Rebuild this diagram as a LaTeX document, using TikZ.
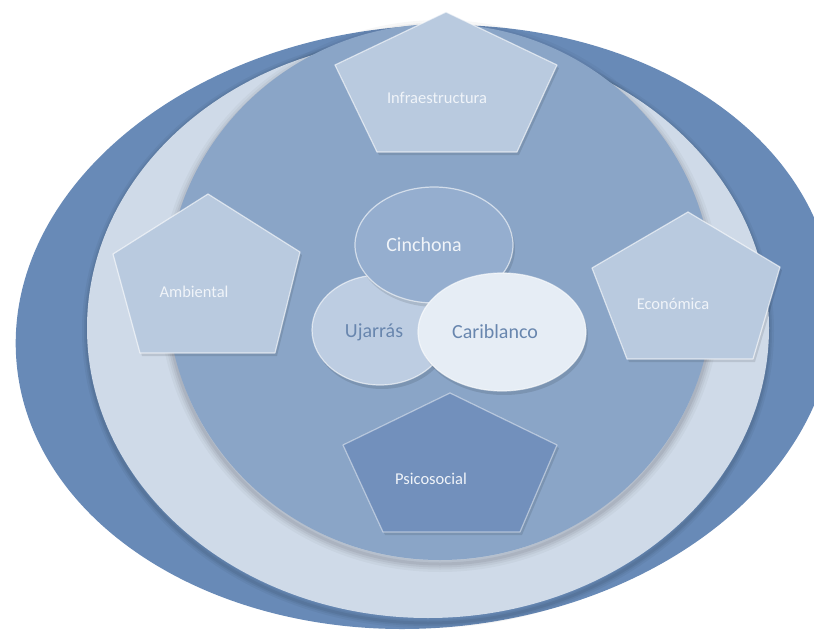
\documentclass[tikz,border=0pt]{standalone}
\usepackage{fontspec}
\setmainfont{Carlito}
\definecolor{darkband}{HTML}{688AB7}
\definecolor{lightband}{HTML}{CFDAE8}
\definecolor{midcircle}{HTML}{8AA5C7}
\definecolor{pent}{HTML}{B9CADF}
\definecolor{pentdark}{HTML}{7290BC}
\definecolor{cinch}{HTML}{95AECF}
\definecolor{ujar}{HTML}{BDCDE2}
\definecolor{carib}{HTML}{E6EDF5}
\definecolor{ltext}{HTML}{F0F4F9}
\definecolor{btext}{HTML}{6886AE}
\tikzset{
  penta/.style={fill=pent, draw=white, draw opacity=0.6, line width=1.2pt, line join=round},
  pentb/.style={fill=pentdark, draw=white, draw opacity=0.45, line width=1.2pt, line join=round},
  shad/.style={fill=black, fill opacity=0.10},
  oval/.style={draw=white, draw opacity=0.6, line width=1.2pt},
  ptext/.style={text=ltext, font=\fontsize{16.5}{18}\selectfont, inner sep=0pt},
  ctext/.style={font=\fontsize{20}{22}\selectfont, inner sep=0pt},
}
\begin{document}
\begin{tikzpicture}[x=1pt,y=-1pt]
\useasboundingbox (0,0) rectangle (814,634);
\clip (0,0) rectangle (814,634);
% outer dark shape
\fill[darkband, rotate around={5:(425,327)}] (425,327) ellipse [x radius=410, y radius=301];
% light band
\foreach \w/\o in {10/0.04,6/0.05,3/0.06}
  \draw[line width=\w pt, black, opacity=\o] (428,331) ellipse [x radius=341, y radius=292];
\fill[lightband] (428,328) ellipse [x radius=341, y radius=290];
% medium circle with soft shadow
\foreach \w/\o in {16/0.03,11/0.04,7/0.05,3/0.06}
  \draw[line width=\w pt, black, opacity=\o] (440,296) ellipse [x radius=273, y radius=268];
\fill[midcircle] (440,292) ellipse [x radius=273, y radius=268];

% pentagons: shadows
\begin{scope}[xshift=2pt, yshift=-3pt]
\fill[shad] (446,12) -- (557,65) -- (517,152) -- (377,152) -- (335,65) -- cycle;
\fill[shad] (208,194) -- (300,252) -- (275,353) -- (140,353) -- (113,254) -- cycle;
\fill[shad] (688,212) -- (780,267) -- (753,359) -- (627,359) -- (592,268) -- cycle;
\fill[shad] (450,393) -- (557,445) -- (520,532) -- (383,532) -- (343,445) -- cycle;
\end{scope}
% pentagons
\draw[penta] (446,12) -- (557,65) -- (517,152) -- (377,152) -- (335,65) -- cycle;
\draw[penta] (208,194) -- (300,252) -- (275,353) -- (140,353) -- (113,254) -- cycle;
\draw[penta] (688,212) -- (780,267) -- (753,359) -- (627,359) -- (592,268) -- cycle;
\draw[pentb] (450,393) -- (557,445) -- (520,532) -- (383,532) -- (343,445) -- cycle;

\node[ptext] (infra) at (437,98) {Infraestructura};
\node[ptext] (amb) at (194,292) {Ambiental};
\node[ptext] (eco) at (673,304) {Económica};
\node[ptext] (psi) at (431,479) {Psicosocial};

% central ovals
\fill[shad] (382,334) ellipse [x radius=68, y radius=55];
\draw[oval, fill=ujar] (380,330) ellipse [x radius=68, y radius=55];
\fill[shad] (436,249) ellipse [x radius=79, y radius=58];
\draw[oval, fill=cinch] (434,245) ellipse [x radius=79, y radius=58];
\fill[shad] (504,336) ellipse [x radius=84, y radius=59];
\draw[oval, fill=carib] (502,332) ellipse [x radius=84, y radius=59];

\node[ctext, text=ltext] (cin) at (424,245) {Cinchona};
\node[ctext, text=btext] (uja) at (374,332) {Ujarrás};
\node[ctext, text=btext] (car) at (495,332) {Cariblanco};
\end{tikzpicture}
\end{document}
